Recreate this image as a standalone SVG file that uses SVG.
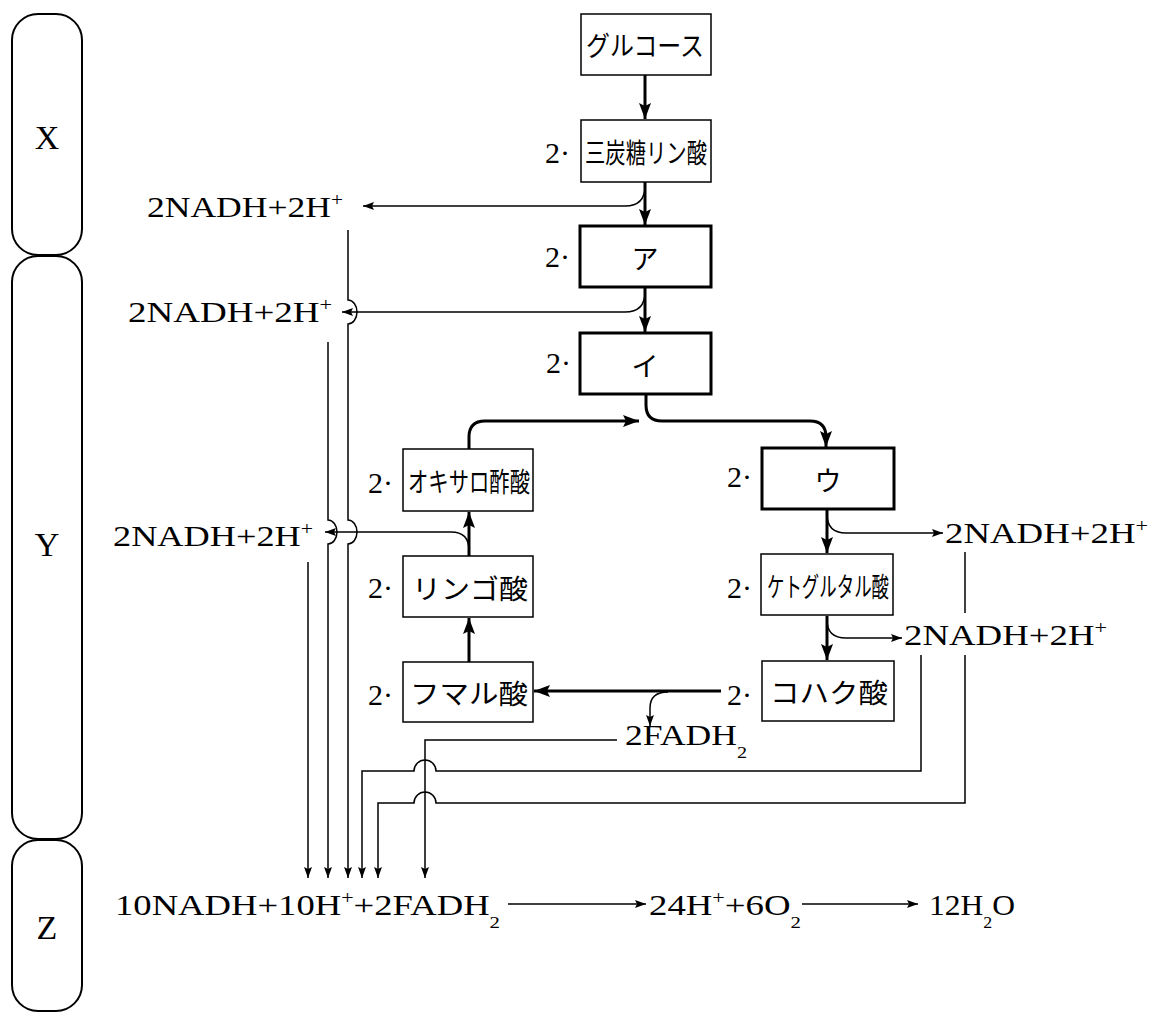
<svg xmlns="http://www.w3.org/2000/svg" width="1155" height="1012" viewBox="0 0 1155 1012">
<style>
.lat{font-family:"Liberation Serif","Times New Roman",serif;font-size:30px;fill:#000}
.big{font-family:"Liberation Serif","Times New Roman",serif;font-size:34px;fill:#000}
.sup{font-size:18px}
.sub{font-size:17px}
.jp{font-family:"Noto Sans CJK JP",sans-serif;font-size:27px;fill:#000;dominant-baseline:central}
.box{fill:#fff;stroke:#000;stroke-width:1.5}
.boxb{fill:#fff;stroke:#000;stroke-width:3}
.stad{fill:none;stroke:#000;stroke-width:2}
.thick{fill:none;stroke:#000;stroke-width:3}
.thin{fill:none;stroke:#000;stroke-width:1.5}
</style>
<defs>
<marker id="ab" viewBox="0 0 16 12" refX="16" refY="6" markerWidth="16" markerHeight="12" markerUnits="userSpaceOnUse" orient="auto"><path d="M0,0 L16,6 L0,12 L3,6 Z" fill="#000"/></marker>
<marker id="as" viewBox="0 0 11 8" refX="11" refY="4" markerWidth="11" markerHeight="8" markerUnits="userSpaceOnUse" orient="auto"><path d="M0,0 L11,4 L0,8 L2,4 Z" fill="#000"/></marker>
</defs>
<rect x="0" y="0" width="1155" height="1012" fill="#fff"/>

<g id="stage-X"><rect class="stad" x="12" y="14" width="70" height="241" rx="26" ry="26"/><text class="big" x="47" y="149" text-anchor="middle">X</text></g>
<g id="stage-Y"><rect class="stad" x="12" y="256" width="70" height="583" rx="26" ry="26"/><text class="big" x="47" y="556" text-anchor="middle">Y</text></g>
<g id="stage-Z"><rect class="stad" x="12" y="840" width="70" height="171" rx="26" ry="26"/><text class="big" x="47" y="939" text-anchor="middle">Z</text></g>

<g id="connectors">
<path class="thick" d="M645,75 L645,119" marker-end="url(#ab)"/>
<path class="thick" d="M645,182 L645,225" marker-end="url(#ab)"/>
<path class="thick" d="M645,288 L645,332" marker-end="url(#ab)"/>
<path class="thick" d="M646,395 L646,405 Q646,421 662,421 L810,421 Q826,421 826,437 L826,447" marker-end="url(#ab)"/>
<path class="thick" d="M469,449 L469,437 Q469,421 485,421 L639,421" marker-end="url(#ab)"/>
<path class="thick" d="M469,556 L469,512" marker-end="url(#ab)"/>
<path class="thick" d="M469,662 L469,618" marker-end="url(#ab)"/>
<path class="thick" d="M721,691 L534,691" marker-end="url(#ab)"/>
<path class="thick" d="M827,510 L827,553" marker-end="url(#ab)"/>
<path class="thick" d="M827,616 L827,660" marker-end="url(#ab)"/>

<path class="thin" d="M645,186 Q645,206 625,206 L363,206" marker-end="url(#as)"/>
<path class="thin" d="M645,292 Q645,312 625,312 L342,312" marker-end="url(#as)"/>
<path class="thin" d="M469,550 Q469,532 451,532 L325,532" marker-end="url(#as)"/>
<path class="thin" d="M827,514 Q827,533 846,533 L943,533" marker-end="url(#as)"/>
<path class="thin" d="M827,620 Q827,638 846,638 L902,638" marker-end="url(#as)"/>
<path class="thin" d="M668,692 Q650,692 650,708 L650,726" marker-end="url(#as)"/>

<path class="thin" d="M348,230 V300 A9,12 0 0 1 348,324 V520 A9,12 0 0 1 348,544 V878" marker-end="url(#as)"/>
<path class="thin" d="M328,342 V520 A9,12 0 0 1 328,544 V878" marker-end="url(#as)"/>
<path class="thin" d="M308,562 V878" marker-end="url(#as)"/>
<path class="thin" d="M921,655 V771 H436 A11,11 0 0 0 414,771 H362 V878" marker-end="url(#as)"/>
<path class="thin" d="M965,655 V803 H436 A11,11 0 0 0 414,803 H378 V878" marker-end="url(#as)"/>
<path class="thin" d="M965,552 V613"/>
<path class="thin" d="M617,740 H425 V878" marker-end="url(#as)"/>

<path class="thin" d="M508,904 H646" marker-end="url(#as)"/>
<path class="thin" d="M802,904 H918" marker-end="url(#as)"/>
</g>

<g id="glucose"><rect class="box" x="581" y="14" width="130" height="61"/><text class="jp" x="586" y="44" textLength="118" lengthAdjust="spacingAndGlyphs">グルコース</text></g>
<g id="triose"><rect class="box" x="581" y="120" width="130" height="62"/><text class="jp" x="585" y="151" textLength="122" lengthAdjust="spacingAndGlyphs">三炭糖リン酸</text><text class="lat" x="545" y="163">2·</text></g>
<g id="a"><rect class="boxb" x="580" y="226" width="131" height="61"/><text class="jp" x="645" y="257" text-anchor="middle" font-size="28">ア</text><text class="lat" x="545" y="267">2·</text></g>
<g id="i"><rect class="boxb" x="580" y="333" width="131" height="61"/><text class="jp" x="645" y="364" text-anchor="middle" font-size="28">イ</text><text class="lat" x="546" y="373">2·</text></g>
<g id="u"><rect class="boxb" x="762" y="448" width="132" height="61"/><text class="jp" x="828" y="479" text-anchor="middle" font-size="28">ウ</text><text class="lat" x="727" y="487">2·</text></g>
<g id="ketoglutarate"><rect class="box" x="761" y="554" width="132" height="61"/><text class="jp" x="767" y="585" textLength="122" lengthAdjust="spacingAndGlyphs">ケトグルタル酸</text><text class="lat" x="727" y="598">2·</text></g>
<g id="succinate"><rect class="box" x="762" y="661" width="132" height="60"/><text class="jp" x="770" y="691" textLength="118" lengthAdjust="spacingAndGlyphs">コハク酸</text><text class="lat" x="727" y="705">2·</text></g>
<g id="fumarate"><rect class="box" x="403" y="662" width="130" height="60"/><text class="jp" x="410" y="692" textLength="118" lengthAdjust="spacingAndGlyphs">フマル酸</text><text class="lat" x="368" y="705">2·</text></g>
<g id="malate"><rect class="box" x="403" y="556" width="130" height="61"/><text class="jp" x="412" y="587" textLength="116" lengthAdjust="spacingAndGlyphs">リンゴ酸</text><text class="lat" x="368" y="598">2·</text></g>
<g id="oxaloacetate"><rect class="box" x="403" y="449" width="130" height="62"/><text class="jp" x="408" y="480" textLength="122" lengthAdjust="spacingAndGlyphs">オキサロ酢酸</text><text class="lat" x="368" y="493">2·</text></g>

<g id="nadh-1"><text class="lat" x="147" y="217" textLength="196" lengthAdjust="spacingAndGlyphs">2NADH+2H<tspan class="sup" dy="-11">+</tspan></text></g>
<g id="nadh-2"><text class="lat" x="128" y="322" textLength="204" lengthAdjust="spacingAndGlyphs">2NADH+2H<tspan class="sup" dy="-11">+</tspan></text></g>
<g id="nadh-3"><text class="lat" x="113" y="546" textLength="200" lengthAdjust="spacingAndGlyphs">2NADH+2H<tspan class="sup" dy="-11">+</tspan></text></g>
<g id="nadh-4"><text class="lat" x="945" y="543" textLength="203" lengthAdjust="spacingAndGlyphs">2NADH+2H<tspan class="sup" dy="-11">+</tspan></text></g>
<g id="nadh-5"><text class="lat" x="904" y="645" textLength="203" lengthAdjust="spacingAndGlyphs">2NADH+2H<tspan class="sup" dy="-11">+</tspan></text></g>
<g id="fadh"><text class="lat" x="625" y="745" textLength="122" lengthAdjust="spacingAndGlyphs">2FADH<tspan class="sub" dy="13">2</tspan></text></g>

<g id="etc-input"><text class="lat" x="115" y="915" textLength="385" lengthAdjust="spacingAndGlyphs">10NADH+10H<tspan class="sup" dy="-11">+</tspan><tspan dy="11">+2FADH</tspan><tspan class="sub" dy="13">2</tspan></text></g>
<g id="etc-mid"><text class="lat" x="649" y="915" textLength="152" lengthAdjust="spacingAndGlyphs">24H<tspan class="sup" dy="-11">+</tspan><tspan dy="11">+6O</tspan><tspan class="sub" dy="13">2</tspan></text></g>
<g id="etc-out"><text class="lat" x="929" y="915" textLength="86" lengthAdjust="spacingAndGlyphs">12H<tspan class="sub" dy="13">2</tspan><tspan dy="-13">O</tspan></text></g>
</svg>
